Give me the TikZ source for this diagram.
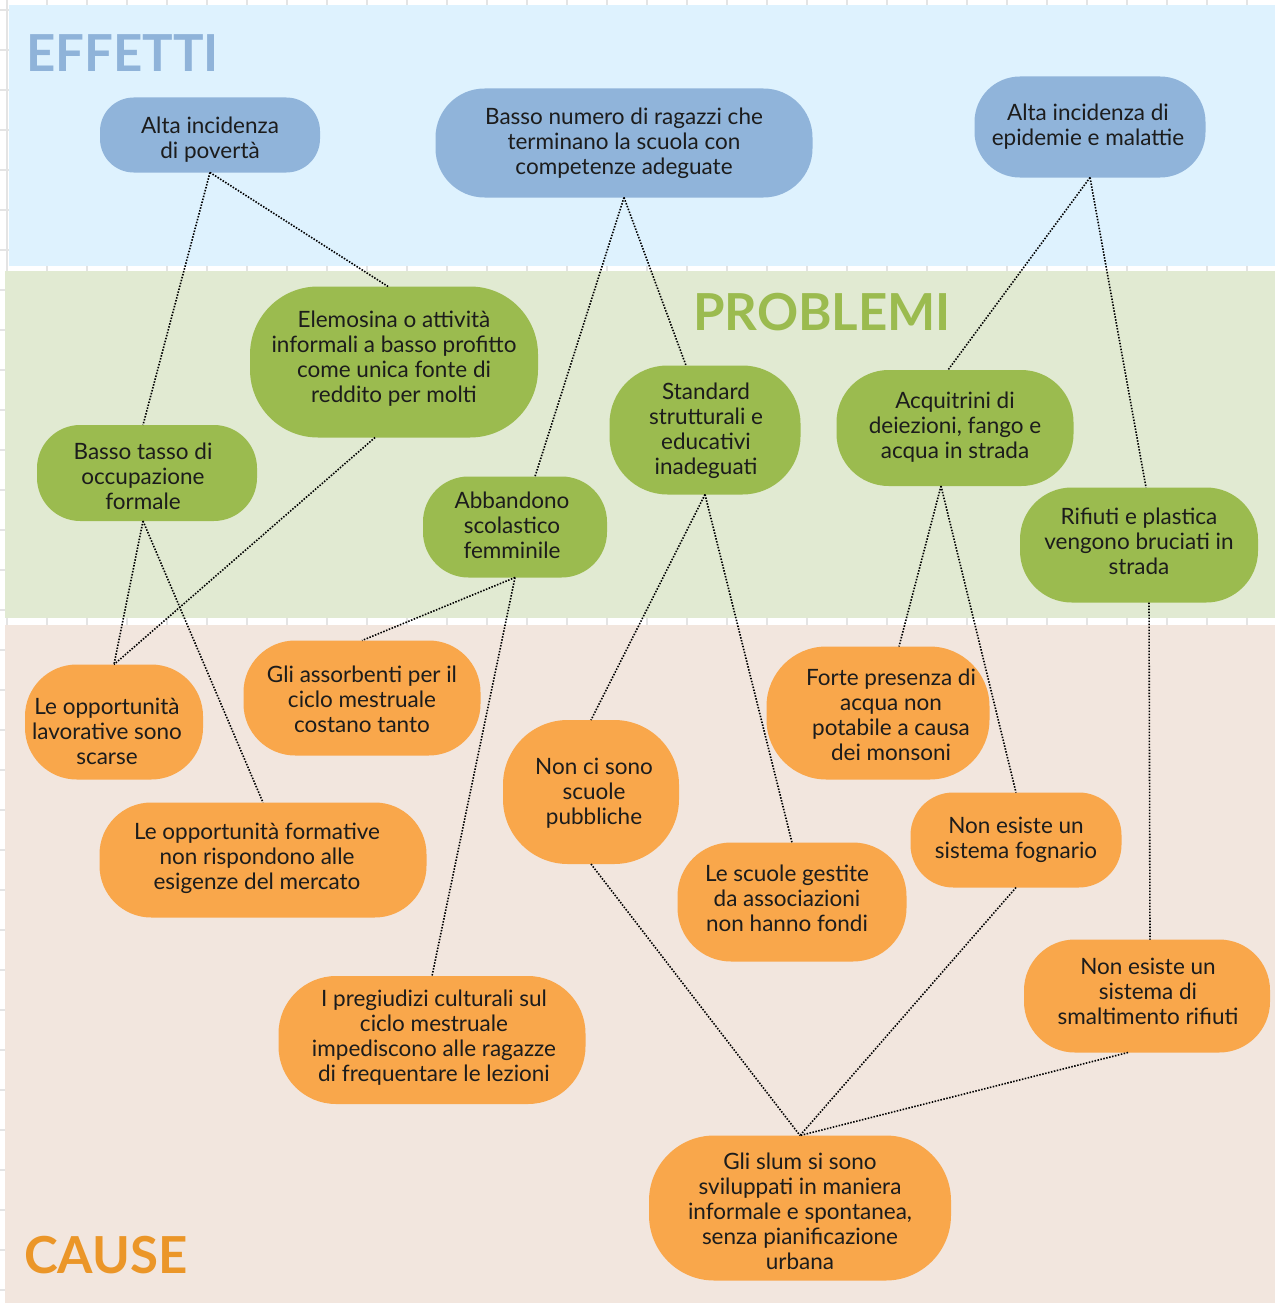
\documentclass[tikz,border=0pt]{standalone}
\usepackage{fontspec}
\setmainfont{Lato}
\definecolor{gridgray}{HTML}{E4E4E4}
\definecolor{effbg}{HTML}{DEF2FE}
\definecolor{probg}{HTML}{E1EAD2}
\definecolor{caubg}{HTML}{F2E6DE}
\definecolor{effnode}{HTML}{90B4DA}
\definecolor{pronode}{HTML}{9BBB4F}
\definecolor{caunode}{HTML}{F9A74B}
\definecolor{efftitle}{HTML}{8FB3D9}
\definecolor{protitle}{HTML}{9BBB4F}
\definecolor{cautitle}{HTML}{EB9628}
\definecolor{ink}{HTML}{1C1C1C}
\tikzset{
  gridline/.style={gridgray, line width=2pt},
  pill/.style 2 args={rectangle, outer sep=0pt, inner sep=0pt,
    minimum width=#1pt, minimum height=#2pt, rounded corners={0.45*#2pt}},
  effbox/.style 2 args={pill={#1}{#2}, fill=effnode},
  probox/.style 2 args={pill={#1}{#2}, fill=pronode},
  caubox/.style 2 args={pill={#1}{#2}, fill=caunode},
  lbl/.style={inner sep=0pt, align=center, text=ink, font=\fontsize{22.5}{25}\selectfont},
  bandtitle/.style={anchor=base west, inner sep=0pt, font=\fontsize{51}{58}\selectfont\bfseries},
  link/.style={black, line width=1.6pt, dash pattern=on 1.5pt off 1.5pt},
}
\begin{document}
\begin{tikzpicture}[x=1pt,y=-1pt]
\useasboundingbox (0,0) rectangle (1275,1303);
% background sheet grid
\foreach \gx in {7,47,...,1287} \draw[gridline] (\gx,0) -- (\gx,1303);
\foreach \gy in {10,50,...,1310} \draw[gridline] (0,\gy) -- (1275,\gy);
% bands
\fill[effbg] (9,5) rectangle (1275,266);
\fill[probg] (5,271) rectangle (1275,618);
\fill[caubg] (5,625) rectangle (1275,1303);
% band titles
\node[bandtitle, text=efftitle] (tEff) at (26,72) {EFFETTI};
\node[bandtitle, text=protitle] (tPro) at (693,330) {PROBLEMI};
\node[bandtitle, text=cautitle] (tCau) at (24,1273) {CAUSE};

% effects
\node[effbox={220}{75}]  (e1) at (210,135) {};
\node[effbox={377}{109}] (e2) at (624,143) {};
\node[effbox={231}{101}] (e3) at (1090,127) {};
\node[lbl] (e1t) at (210,140) {Alta incidenza\\di povertà};
\node[lbl] (e2t) at (624,143) {Basso numero di ragazzi che\\terminano la scuola con\\competenze adeguate};
\node[lbl] (e3t) at (1088,127) {Alta incidenza di\\epidemie e malattie};

% problems
\node[probox={288}{151}] (p1) at (394,362) {};
\node[probox={220}{96}]  (p2) at (147,473) {};
\node[probox={184}{101}] (p3) at (515,527) {};
\node[probox={191}{129}] (p4) at (705,430) {};
\node[probox={237}{116}] (p5) at (955,428) {};
\node[probox={238}{115}] (p6) at (1139,545) {};
\node[lbl] (p1t) at (394,359) {Elemosina o attività\\informali a basso profitto\\come unica fonte di\\reddito per molti};
\node[lbl] (p2t) at (143,476) {Basso tasso di\\occupazione\\formale};
\node[lbl] (p3t) at (512,525) {Abbandono\\scolastico\\femminile};
\node[lbl] (p4t) at (706,431) {Standard\\strutturali e\\educativi\\inadeguati};
\node[lbl] (p5t) at (955,427) {Acquitrini di\\deiezioni, fango e\\acqua in strada};
\node[lbl] (p6t) at (1139,541) {Rifiuti e plastica\\vengono bruciati in\\strada};

% causes
\node[caubox={178}{115}] (c1) at (114,722) {};
\node[caubox={237}{115}] (c2) at (362,698) {};
\node[caubox={327}{115}] (c3) at (263,860) {};
\node[caubox={176}{144}] (c4) at (591,792) {};
\node[caubox={223}{133}] (c5) at (878,713) {};
\node[caubox={211}{95}]  (c6) at (1016,840) {};
\node[caubox={229}{119}] (c7) at (792,902) {};
\node[caubox={307}{128}] (c8) at (432,1040) {};
\node[caubox={246}{113}] (c9) at (1147,996) {};
\node[caubox={302}{145}] (c10) at (800,1208) {};
\node[lbl] (c1t) at (107,731) {Le opportunità\\lavorative sono\\scarse};
\node[lbl] (c2t) at (362,699) {Gli assorbenti per il\\ciclo mestruale\\costano tanto};
\node[lbl] (c3t) at (257,858) {Le opportunità formative\\non rispondono alle\\esigenze del mercato};
\node[lbl] (c4t) at (594,793) {Non ci sono\\scuole\\pubbliche};
\node[lbl] (c5t) at (891,715) {Forte presenza di\\acqua non\\potabile a causa\\dei monsoni};
\node[lbl] (c6t) at (1016,840) {Non esiste un\\sistema fognario};
\node[lbl] (c7t) at (787,898) {Le scuole gestite\\da associazioni\\non hanno fondi};
\node[lbl] (c8t) at (434,1038) {I pregiudizi culturali sul\\ciclo mestruale\\impediscono alle ragazze\\di frequentare le lezioni};
\node[lbl] (c9t) at (1148,991) {Non esiste un\\sistema di\\smaltimento rifiuti};
\node[lbl] (c10t) at (800,1211) {Gli slum si sono\\sviluppati in maniera\\informale e spontanea,\\senza pianificazione\\urbana};

% connectors
\draw[link] (e1.south) -- ([xshift=-4pt]p2.north);
\draw[link] (e1.south) -- ([xshift=-6pt]p1.north);
\draw[link] (e2.south) -- ([xshift=20pt]p3.north);
\draw[link] (e2.south) -- ([xshift=-19pt]p4.north);
\draw[link] (e3.south) -- ([xshift=-7pt]p5.north);
\draw[link] (e3.south) -- ([xshift=7pt]p6.north);
\draw[link] ([xshift=-19pt]p1.south) -- (c1.north);
\draw[link] ([xshift=-4pt]p2.south) -- (c1.north);
\draw[link] ([xshift=-4pt]p2.south) -- (c3.north);
\draw[link] (p3.south) -- (c2.north);
\draw[link] (p3.south) -- (c8.north);
\draw[link] (p4.south) -- (c4.north);
\draw[link] (p4.south) -- (c7.north);
\draw[link] ([xshift=-14pt]p5.south) -- ([xshift=21pt]c5.north);
\draw[link] ([xshift=-14pt]p5.south) -- (c6.north);
\draw[link] ([xshift=10pt]p6.south) -- ([xshift=3pt]c9.north);
\draw[link] (c4.south) -- (c10.north);
\draw[link] (c6.south) -- (c10.north);
\draw[link] ([xshift=-19pt]c9.south) -- (c10.north);
\end{tikzpicture}
\end{document}
